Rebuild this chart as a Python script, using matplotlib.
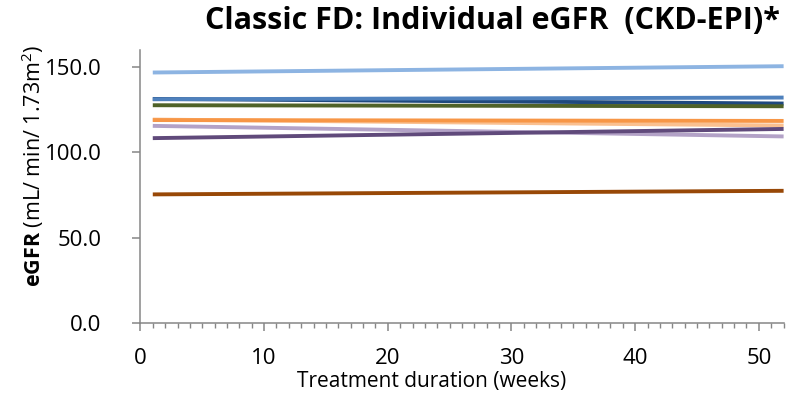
import matplotlib.pyplot as plt
from matplotlib.ticker import MultipleLocator, FormatStrFormatter

plt.rcParams['font.family'] = ['Open Sans', 'DejaVu Sans']
plt.rcParams['mathtext.fontset'] = 'custom'
plt.rcParams['mathtext.rm'] = 'Open Sans'
plt.rcParams['mathtext.bf'] = 'Open Sans:bold'

# eGFR per patient, week 1 and week 52
weeks = [1, 52]
light_blue = [146.9, 150.6]
navy = [131.4, 128.7]
mid_blue = [131.2, 132.2]
olive = [127.7, 127.1]
light_orange = [119.3, 115.8]
orange = [119.0, 118.5]
light_purple = [115.6, 109.4]
dark_purple = [108.4, 113.8]
brown = [75.4, 77.5]

series = [
    (light_blue, '#8DB4E2'),
    (navy, '#1F497D'),
    (mid_blue, '#4F81BD'),
    (olive, '#4F6228'),
    (light_orange, '#FAC090'),
    (orange, '#F79646'),
    (light_purple, '#B3A2C7'),
    (dark_purple, '#604A7B'),
    (brown, '#984807'),
]

fig = plt.figure(figsize=(8.07, 3.97), dpi=100)
ax = fig.add_axes([0.174, 0.1866, 0.797, 0.687])

for vals, col in series:
    ax.plot(weeks, vals, color=col, linewidth=2.8, solid_capstyle='butt')

ax.set_xlim(0, 52)
ax.set_ylim(0, 160)
ax.yaxis.set_major_locator(MultipleLocator(50))
ax.yaxis.set_major_formatter(FormatStrFormatter('%.1f'))
ax.xaxis.set_major_locator(MultipleLocator(10))
ax.xaxis.set_minor_locator(MultipleLocator(1))

for s in ['top', 'right']:
    ax.spines[s].set_visible(False)
for s in ['left', 'bottom']:
    ax.spines[s].set_color('#868686')
    ax.spines[s].set_linewidth(1.1)

ax.tick_params(axis='both', which='major', direction='out', length=6,
               color='#868686', width=1.1, labelsize=16)
ax.tick_params(axis='y', which='major', pad=22)
ax.tick_params(axis='x', which='major', pad=12)
ax.tick_params(axis='x', which='minor', direction='out', length=3.6,
               color='#868686', width=1)

fig.text(0.535, 0.04, 'Treatment duration (weeks)', fontsize=15,
         ha='center', va='center')
fig.text(0.04, 0.581, r'$\bf{eGFR}$ (mL/ min/ 1.73m$^2$)', fontsize=15.5,
         rotation=90, ha='center', va='center')

fig.text(0.61, 0.947, 'Classic FD: Individual eGFR  (CKD-EPI)*',
         fontsize=22, fontweight='bold', ha='center', va='center')

fig.savefig('out.png', dpi=100)
